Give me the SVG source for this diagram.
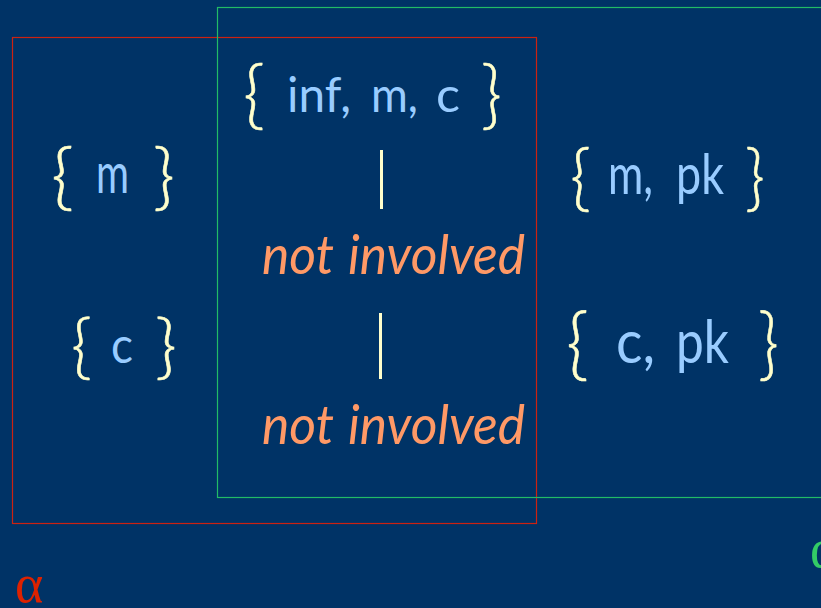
<svg xmlns="http://www.w3.org/2000/svg" width="821" height="608" viewBox="0 0 821 608">
  <style>
    .brace { fill: #ffffcc; font-family: Lato, "Open Sans", sans-serif; font-weight: 300; stroke: #ffffcc; stroke-width: 0.6; }
    .item { fill: #99ccff; font-family: Lato, "Open Sans", sans-serif; }
    .note { fill: #ff9966; font-family: Lato, "Open Sans", sans-serif; font-style: italic; font-size: 54px; }
    .bar { fill: #ffffcc; }
    .greek { font-family: "Liberation Serif", "DejaVu Serif", serif; font-size: 54px; }
  </style>
  <rect width="821" height="608" fill="#003366"/>

  <!-- scope boxes -->
  <g id="scopes" fill="none" stroke-width="1.2">
    <rect id="scope-alpha" x="12.5" y="37.5" width="524" height="486" stroke="#cc2211"/>
    <rect id="scope-sigma" x="217.5" y="7.5" width="700" height="490" stroke="#22bb66"/>
  </g>
  <text class="greek" x="15" y="602" fill="#dd2200">α</text>
  <text class="greek" x="810" y="567" fill="#33cc66">α</text>

  <!-- sets -->
  <g id="set-inf-m-c" font-size="48">
    <text class="brace" x="243" y="120" font-size="74" textLength="22" lengthAdjust="spacingAndGlyphs">{</text>
    <text class="item" x="287" y="112" textLength="64" lengthAdjust="spacingAndGlyphs">inf,</text>
    <text class="item" x="371" y="112" textLength="47" lengthAdjust="spacingAndGlyphs">m,</text>
    <text class="item" x="436" y="112" textLength="24" lengthAdjust="spacingAndGlyphs">c</text>
    <text class="brace" x="481" y="120" font-size="74" textLength="21" lengthAdjust="spacingAndGlyphs">}</text>
  </g>
  <g id="set-m" font-size="56">
    <text class="brace" x="51" y="201" font-size="72" textLength="23" lengthAdjust="spacingAndGlyphs">{</text>
    <text class="item" x="96" y="193" textLength="33" lengthAdjust="spacingAndGlyphs">m</text>
    <text class="brace" x="153" y="201" font-size="72" textLength="22" lengthAdjust="spacingAndGlyphs">}</text>
  </g>
  <g id="set-c" font-size="50">
    <text class="brace" x="71" y="371" font-size="71" textLength="21" lengthAdjust="spacingAndGlyphs">{</text>
    <text class="item" x="111" y="363" textLength="22" lengthAdjust="spacingAndGlyphs">c</text>
    <text class="brace" x="155" y="371" font-size="71" textLength="22" lengthAdjust="spacingAndGlyphs">}</text>
  </g>
  <g id="set-m-pk" font-size="56">
    <text class="brace" x="570" y="202" font-size="72" textLength="21" lengthAdjust="spacingAndGlyphs">{</text>
    <text class="item" x="608" y="194" textLength="45" lengthAdjust="spacingAndGlyphs">m,</text>
    <text class="item" x="676" y="194" textLength="48" lengthAdjust="spacingAndGlyphs">pk</text>
    <text class="brace" x="745" y="202" font-size="72" textLength="20" lengthAdjust="spacingAndGlyphs">}</text>
  </g>
  <g id="set-c-pk" font-size="60">
    <text class="brace" x="566" y="371" font-size="78" textLength="23" lengthAdjust="spacingAndGlyphs">{</text>
    <text class="item" x="616" y="363" textLength="39" lengthAdjust="spacingAndGlyphs">c,</text>
    <text class="item" x="676" y="363" textLength="53" lengthAdjust="spacingAndGlyphs">pk</text>
    <text class="brace" x="758" y="371" font-size="78" textLength="21" lengthAdjust="spacingAndGlyphs">}</text>
  </g>

  <!-- links -->
  <g id="connectors">
    <rect class="bar" x="380" y="150" width="3" height="59"/>
    <rect class="bar" x="379" y="313" width="3" height="66"/>
  </g>

  <g id="note-1">
    <text class="note" x="262" y="274" textLength="72" lengthAdjust="spacingAndGlyphs">not</text>
    <text class="note" x="348" y="274" textLength="177" lengthAdjust="spacingAndGlyphs">involved</text>
  </g>
  <g id="note-2">
    <text class="note" x="262" y="444" textLength="72" lengthAdjust="spacingAndGlyphs">not</text>
    <text class="note" x="348" y="444" textLength="177" lengthAdjust="spacingAndGlyphs">involved</text>
  </g>
</svg>
